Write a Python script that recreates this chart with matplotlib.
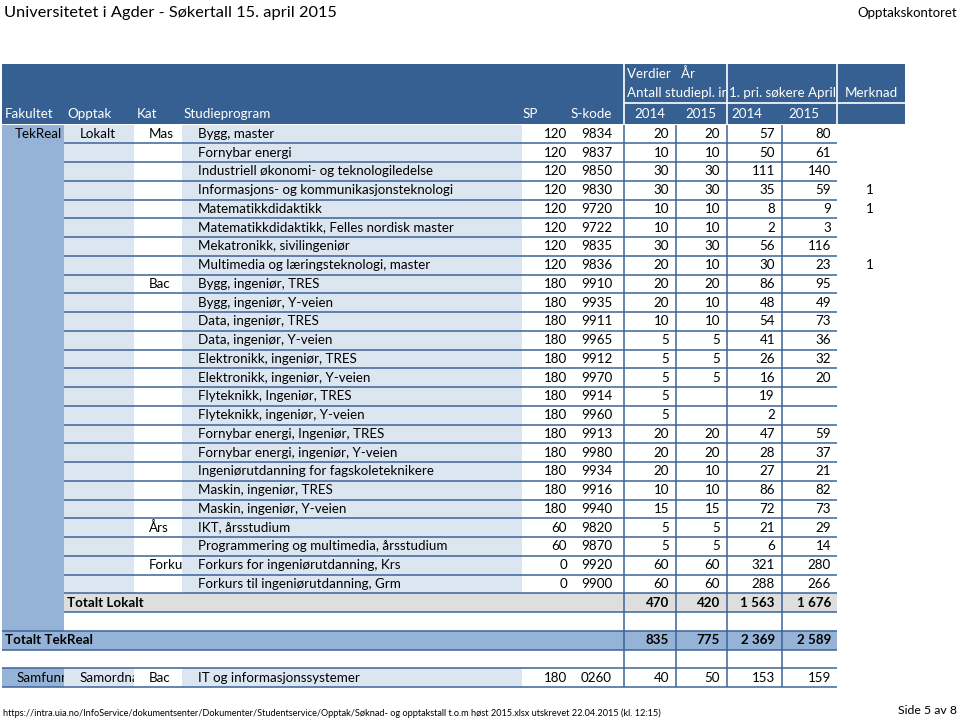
import matplotlib
matplotlib.use("Agg")
import matplotlib.pyplot as plt
from matplotlib.patches import Rectangle
from matplotlib.transforms import Bbox, TransformedBbox

plt.rcParams['font.family'] = ['Lato', 'DejaVu Sans']

# data
programs = [
    "Bygg, master", "Fornybar energi", "Industriell økonomi- og teknologiledelse",
    "Informasjons- og kommunikasjonsteknologi", "Matematikkdidaktikk",
    "Matematikkdidaktikk, Felles nordisk master", "Mekatronikk, sivilingeniør",
    "Multimedia og læringsteknologi, master",
    "Bygg, ingeniør, TRES", "Bygg, ingeniør, Y-veien", "Data, ingeniør, TRES",
    "Data, ingeniør, Y-veien", "Elektronikk, ingeniør, TRES", "Elektronikk, ingeniør, Y-veien",
    "Flyteknikk, Ingeniør, TRES", "Flyteknikk, ingeniør, Y-veien",
    "Fornybar energi, Ingeniør, TRES", "Fornybar energi, ingeniør, Y-veien",
    "Ingeniørutdanning for fagskoleteknikere", "Maskin, ingeniør, TRES", "Maskin, ingeniør, Y-veien",
    "IKT, årsstudium", "Programmering og multimedia, årsstudium",
    "Forkurs for ingeniørutdanning, Krs", "Forkurs til ingeniørutdanning, Grm",
]
kat = {0: "Mas", 8: "Bac", 21: "Års", 23: "Forku"}
sp = [120] * 8 + [180] * 13 + [60, 60, 0, 0]
skode = ["9834", "9837", "9850", "9830", "9720", "9722", "9835", "9836",
         "9910", "9935", "9911", "9965", "9912", "9970", "9914", "9960",
         "9913", "9980", "9934", "9916", "9940", "9820", "9870", "9920", "9900"]
plasser_2014 = [20, 10, 30, 30, 10, 10, 30, 20, 20, 20, 10, 5, 5, 5, 5, 5, 20, 20, 20, 10, 15, 5, 5, 60, 60]
plasser_2015 = [20, 10, 30, 30, 10, 10, 30, 10, 20, 10, 10, 5, 5, 5, None, None, 20, 20, 10, 10, 15, 5, 5, 60, 60]
sokere_2014 = [57, 50, 111, 35, 8, 2, 56, 30, 86, 48, 54, 41, 26, 16, 19, 2, 47, 28, 27, 86, 72, 21, 6, 321, 288]
sokere_2015 = [80, 61, 140, 59, 9, 3, 116, 23, 95, 49, 73, 36, 32, 20, None, None, 59, 37, 21, 82, 73, 29, 14, 280, 266]
merknad = {3: "1", 4: "1", 7: "1"}
total_lokalt = ["470", "420", "1 563", "1 676"]
total_tekreal = ["835", "775", "2 369", "2 589"]
samfunn = ["IT og informasjonssystemer", "180", "0260", "40", "50", "153", "159"]

DARK = '#376092'
MID = '#95b3d7'
LIGHT = '#dce6f1'
GRAY = '#dedede'
LINE = '#3d6399'
FS = 9.6

fig = plt.figure(figsize=(9.6, 7.19), dpi=100)
ax = fig.add_axes([0, 0, 1, 1])
ax.set_xlim(0, 960)
ax.set_ylim(719, 0)
ax.axis('off')


def box(x0, x1, y0, y1, color):
    ax.add_patch(Rectangle((x0, y0), x1 - x0, y1 - y0, facecolor=color, edgecolor='none', zorder=1))


def hline(y, x0, x1, color=LINE, lw=1.1):
    ax.plot([x0, x1], [y, y], color=color, lw=lw, zorder=3, solid_capstyle='butt')


def vline(x, y0, y1, color=LINE, lw=1.1):
    ax.plot([x, x], [y0, y1], color=color, lw=lw, zorder=3, solid_capstyle='butt')


def txt(x, y, s, ha='left', color='black', bold=False, size=FS, clip=None):
    t = ax.text(x, y, s, ha=ha, va='center', color=color, fontsize=size,
                fontweight='bold' if bold else 'normal', zorder=4)
    if clip is not None:
        # cut text at the cell edge, as the spreadsheet does
        t.set_clip_box(TransformedBbox(Bbox([[clip[0], y - 12], [clip[1], y + 12]]), ax.transData))
        t.set_clip_on(True)
    return t


# columns
x_fak, x_opp, x_kat, x_prog, x_sp, x_val, x_end, x_merk = 2, 64, 134, 182, 522, 624, 837, 905
val_right = [669, 720, 775, 831]
val_lines = [624, 676, 727, 782]

# page texts
txt(4, 13, "Universitetet i Agder - Søkertall 15. april 2015", size=11.8)
txt(957, 13, "Opptakskontoret", ha='right', size=9.5)
txt(3, 713, "https://intra.uia.no/InfoService/dokumentsenter/Dokumenter/Studentservice/Opptak/Søknad- og opptakstall t.o.m høst 2015.xlsx utskrevet 22.04.2015 (kl. 12:15)", size=6.6)
txt(957, 711, "Side 5 av 8", ha='right', size=8.8)

# header
h0, h1, h2, h3 = 64, 83.5, 103, 124
box(x_fak, x_merk, h0, h3, DARK)
for xv in (x_val, 727, x_end):
    vline(xv, h0, h3, color='white', lw=1.2)
hline(h2, x_val, x_merk, color='white', lw=1.2)
txt(x_val + 3, (h0 + h1) / 2, "Verdier   År", color='white')
txt(x_val + 3, (h1 + h2) / 2, "Antall studiepl. inn", color='white', clip=(x_val, 726))
txt(729, (h1 + h2) / 2, "1. pri. søkere April", color='white', clip=(727, 836))
txt((x_end + x_merk) / 2, (h1 + h2) / 2, "Merknad", ha='center', color='white')
yh = (h2 + h3) / 2
txt(5, yh, "Fakultet", color='white')
txt(67, yh, "Opptak", color='white')
txt(137, yh, "Kat", color='white')
txt(184, yh, "Studieprogram", color='white')
txt(523, yh, "SP", color='white')
txt(612, yh, "S-kode", ha='right', color='white')
for xc, lab in zip((650, 701, 747, 804), ("2014", "2015", "2014", "2015")):
    txt(xc, yh, lab, ha='center', color='white')

# body rows
top, rh = 124.5, 18.75
n = len(programs)


def ry(i):
    return top + rh * i


box(x_fak, x_opp, ry(0), ry(n + 2), MID)
box(x_opp, x_kat, ry(0), ry(n), LIGHT)
box(x_prog, x_sp, ry(0), ry(n), LIGHT)
box(x_opp, x_end, ry(n), ry(n + 1), GRAY)
box(x_fak, x_end, ry(n + 2), ry(n + 3), MID)
box(x_fak, x_opp, ry(n + 4), ry(n + 5), MID)
box(x_opp, x_kat, ry(n + 4), ry(n + 5), LIGHT)
box(x_prog, x_sp, ry(n + 4), ry(n + 5), LIGHT)

for k in range(1, n + 2):
    hline(ry(k), x_opp, x_end)
for k in (n + 2, n + 3, n + 4, n + 5):
    hline(ry(k), x_fak, x_end)
for xv in val_lines:
    vline(xv, ry(0), ry(n + 5))

txt(62, ry(0.5), "TekReal", ha='right')
txt(80, ry(0.5), "Lokalt")
for i, prog in enumerate(programs):
    yc = ry(i + 0.5)
    if i in kat:
        txt(149, yc, kat[i], clip=(x_kat, x_prog))
    txt(198, yc, prog)
    txt(567, yc, str(sp[i]), ha='right')
    txt(612, yc, skode[i], ha='right')
    for xr, v in zip(val_right, (plasser_2014[i], plasser_2015[i], sokere_2014[i], sokere_2015[i])):
        if v is not None:
            txt(xr, yc, str(v), ha='right')
    if i in merknad:
        txt(870, yc, merknad[i], ha='center')

yc = ry(n + 0.5)
txt(67, yc, "Totalt Lokalt", bold=True)
for xr, v in zip(val_right, total_lokalt):
    txt(xr, yc, v, ha='right', bold=True)

yc = ry(n + 2.5)
txt(5, yc, "Totalt TekReal", bold=True)
for xr, v in zip(val_right, total_tekreal):
    txt(xr, yc, v, ha='right', bold=True)

yc = ry(n + 4.5)
txt(17, yc, "Samfunn", clip=(x_fak, x_opp))
txt(80, yc, "Samordna", clip=(x_opp, x_kat))
txt(149, yc, "Bac")
txt(198, yc, samfunn[0])
txt(567, yc, samfunn[1], ha='right')
txt(612, yc, samfunn[2], ha='right')
for xr, v in zip(val_right, samfunn[3:]):
    txt(xr, yc, v, ha='right')

fig.savefig("out.png", dpi=100)
